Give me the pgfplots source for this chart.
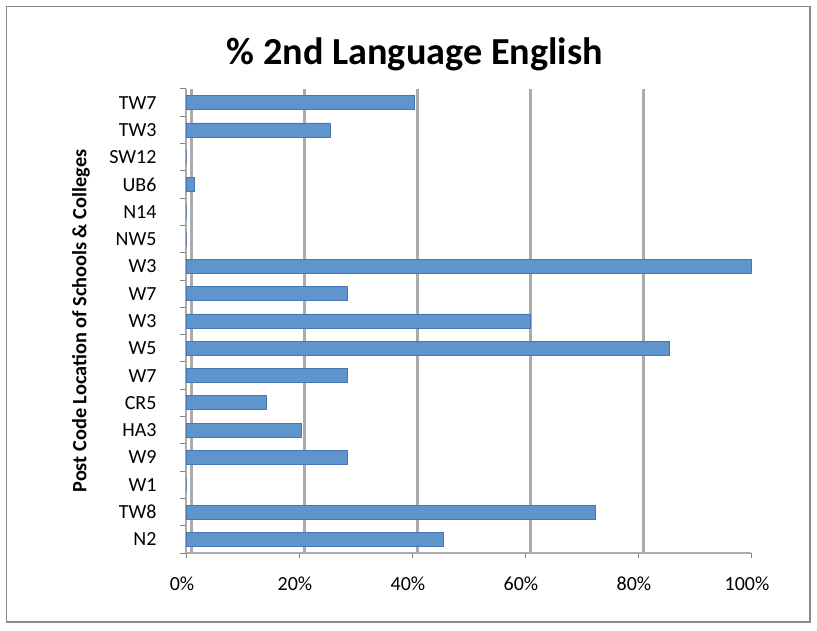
\documentclass[border=0pt]{standalone}
\usepackage{pgfplots}
\pgfplotsset{compat=1.18}
\usepackage{fontspec}
\setmainfont{Carlito}
\definecolor{barfill}{HTML}{5E95CD}
\definecolor{baredge}{HTML}{4677B2}
\definecolor{gridc}{HTML}{ABABAB}
\definecolor{framec}{HTML}{8A8A8A}
\pgfplotstableread{
y x
0 45.5
1 72.5
2 0
3 28.5
4 20.5
5 14.3
6 28.5
7 85.5
8 61
9 28.5
10 100
11 0
12 0
13 1.5
14 0
15 25.5
16 40.5
}\datatable
\begin{document}
\begin{tikzpicture}[x=1pt,y=1pt]
\useasboundingbox (0,0) rectangle (817,630);
\fill[white] (0,0) rectangle (817,630);
\draw[framec, line width=1.2pt] (6.5,8) rectangle (810,623.5);
\begin{axis}[
  at={(186pt,77pt)}, anchor=south west,
  scale only axis, width=565pt, height=464pt,
  xbar, bar width=14pt,
  xmin=0, xmax=100, ymin=-0.5, ymax=16.5,
  clip=false,
  axis x line*=bottom, axis y line*=left,
  axis line style={gridc, line width=2pt},
  xtick={0,20,40,60,80,100},
  xticklabels={0\%,20\%,40\%,60\%,80\%,100\%},
  extra x ticks={1,21,41,61,81,101},
  extra x tick labels={},
  extra x tick style={grid=major, tick style={draw=none}},
  grid style={gridc, line width=2.8pt},
  ytick={0,...,16},
  yticklabels={N2,TW8,W1,W9,HA3,CR5,W7,W5,W3,W7,W3,NW5,N14,UB6,SW12,TW3,TW7},
  minor ytick={-0.5,0.5,...,16.5},
  major y tick style={draw=none},
  minor y tick style={gray, line width=1pt},
  major x tick style={gray, line width=1pt},
  tick align=outside,
  major tick length=5pt, minor tick length=6pt,
  tick label style={font=\fontsize{20}{24}\selectfont},
  xticklabel style={yshift=-15pt, xshift=-4pt},
  yticklabel style={xshift=-21pt},
  ylabel={Post Code Location of Schools \& Colleges},
  ylabel style={at={(axis description cs:-0.186,0.5)}, anchor=center, rotate=0, font=\fontsize{20.3}{24}\selectfont\bfseries},
  title={\% 2nd Language English},
  title style={at={(axis description cs:0.405,1)}, anchor=base, yshift=18pt, font=\fontsize{38.2}{44}\selectfont\bfseries},
]
\addplot[fill=barfill, draw=baredge, line width=0.8pt] table[x=x, y=y] {\datatable};
\end{axis}
\end{tikzpicture}
\end{document}
